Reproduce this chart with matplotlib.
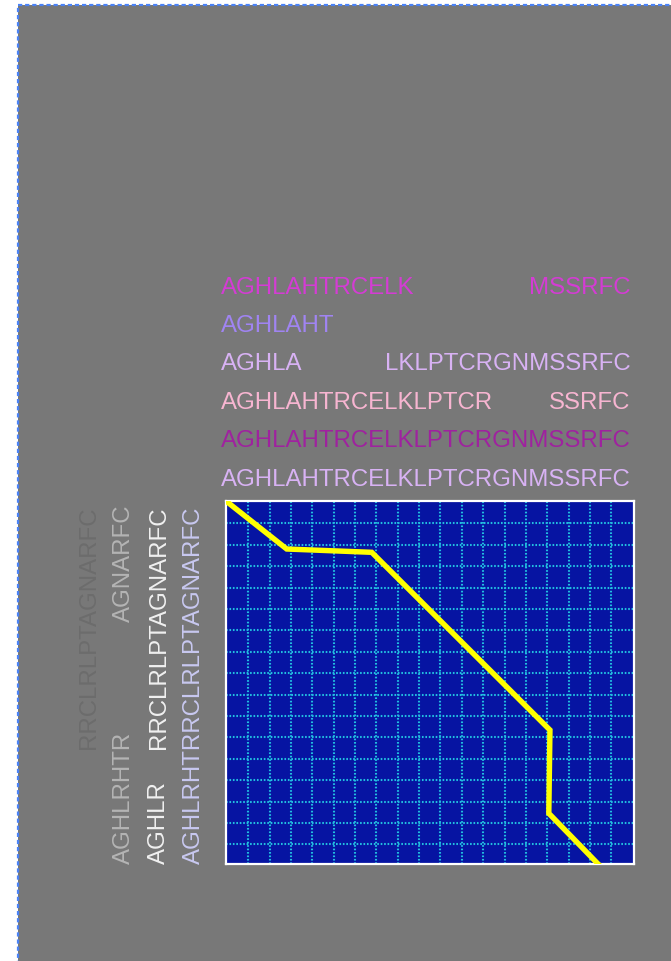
import matplotlib
matplotlib.use("Agg")
import matplotlib.pyplot as plt
import matplotlib.patches as patches
from matplotlib.font_manager import FontProperties
import numpy as np

# aligned sequences, '-' is a gap
top_seqs = ["AGHLAHTRCELK-------MSSRFC",
            "AGHLAHT------------------",
            "AGHLA-----LKLPTCRGNMSSRFC",
            "AGHLAHTRCELKLPTCR---SSRFC",
            "AGHLAHTRCELKLPTCRGNMSSRFC",
            "AGHLAHTRCELKLPTCRGNMSSRFC"]
top_colors = ["#d43cd4", "#a084f2", "#d8b2f4", "#f7b5d1", "#9f229f", "#d8b2f4"]
top_full = "AGHLAHTRCELKLPTCRGNMSSRFC"

left_seqs = ["-------RRCLRLPTAGNARFC",
             "AGHLRHTR-------AGNARFC",
             "AGHLR--RRCLRLPTAGNARFC",
             "AGHLRHTRRCLRLPTAGNARFC"]
left_colors = ["#6c6c6c", "#b4b4b4", "#f0f0f0", "#c8c8f0"]
left_full = "AGHLRHTRRCLRLPTAGNARFC"

# alignment path (x = top sequence position, y = left sequence position)
path_x = [0.0, 3.72, 8.93, 19.85, 19.78, 22.8]
path_y = [0.0, 2.91, 3.11, 13.88, 18.93, 22.0]

W, H = 671, 961
fig = plt.figure(figsize=(W / 100, H / 100), dpi=100)
fig.patch.set_facecolor("white")

bg = patches.Rectangle((17.5 / W, -0.05), 1.2, 1 - 5.5 / H + 0.05, transform=fig.transFigure,
                       facecolor="#787878", edgecolor="#4a82f6", linewidth=1.6,
                       linestyle=(0, (1.9, 1.3)), zorder=-5)
fig.patches.append(bg)

ax = fig.add_axes([226 / W, (H - 864) / H, 408 / W, 363 / H])
ax.set_zorder(2)
ax.set_facecolor("#0614a2")
ax.set_xlim(0, 25)
ax.set_ylim(22, 0)
ax.set_xticks([])
ax.set_yticks([])
for s in ax.spines.values():
    s.set_color("white")
    s.set_linewidth(1.6)

# grid, spacing ~21.35 px
gx = np.arange(22.3, 400, 21.35) / 408 * 25
gy = np.arange(22.3, 355, 21.4) / 363 * 22
for v in gx:
    ax.axvline(v, color="#22bde0", lw=1.5, ls=(0, (0.8, 0.85)), zorder=1)
for v in gy:
    ax.axhline(v, color="#22bde0", lw=1.5, ls=(0, (0.8, 0.85)), zorder=1)

ax.plot(path_x, path_y, color="#ffff00", lw=3.9, zorder=3, solid_joinstyle="miter")

fs = 17.3
font = "Liberation Sans"
renderer = fig.canvas.get_renderer()
prop = FontProperties(family=font, size=fs)


def width(s):
    if not s:
        return 0.0
    w, h, d = renderer.get_text_width_height_descent(s, prop, ismath=False)
    return w


def segments(seq):
    out = []
    i = 0
    while i < len(seq):
        if seq[i] == "-":
            i += 1
            continue
        j = i
        while j < len(seq) and seq[j] != "-":
            j += 1
        out.append((i, seq[i:j]))
        i = j
    return out


# top rows
x0 = 221
for k, (seq, c) in enumerate(zip(top_seqs, top_colors)):
    base = 293.5 + 38.4 * k
    for i, seg in segments(seq):
        x = x0 + width(top_full[:i])
        fig.text(x / W, 1 - base / H, seg, color=c, fontsize=fs, family=font,
                 ha="left", va="baseline")

# left columns, rotated
y0 = 864
for k, (seq, c) in enumerate(zip(left_seqs, left_colors)):
    bx = 95 + 35 * k
    for i, seg in segments(seq):
        y = y0 - width(left_full[:i])
        fig.text(bx / W, 1 - y / H, seg, color=c, fontsize=fs, family=font,
                 ha="left", va="baseline", rotation=90, rotation_mode="anchor")

fig.savefig("out.png", dpi=100)
